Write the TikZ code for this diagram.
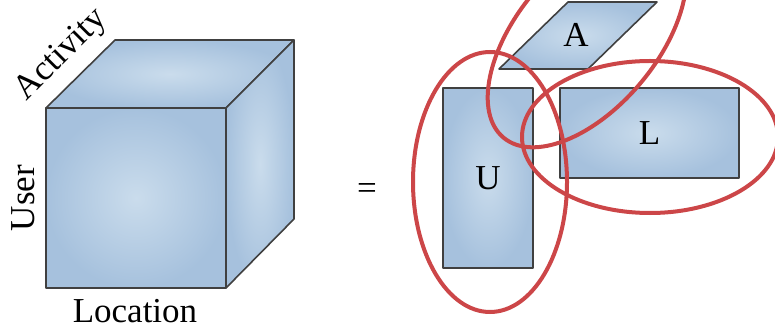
\documentclass[tikz,border=0pt]{standalone}
\usepackage{fontspec}
\setmainfont{Liberation Serif}
\usetikzlibrary{shapes.geometric}

\definecolor{paleblue}{RGB}{202,220,236}
\definecolor{midblue}{RGB}{166,193,221}
\definecolor{edgegray}{RGB}{64,64,64}
\definecolor{ringred}{RGB}{204,70,72}

\begin{document}
\begin{tikzpicture}[x=0.5pt, y=-0.5pt]
        \tikzset{face/.style={draw=edgegray, line width=0.8pt, line join=round, inner color=paleblue, outer color=midblue},
                 block/.style={face, rectangle, inner sep=0pt},
                 lbl/.style={font=\fontsize{17.5}{20}\selectfont, inner sep=1pt},
                 ring/.style={draw=ringred, line width=2pt, ellipse, inner sep=0pt}}
        \useasboundingbox (0,0) rectangle (775,331);

        % tensor cube
        \shade[face] (46,108) -- (115,40) -- (294,40) -- (226,108) -- cycle;
        \shade[face] (226,108) -- (294,40) -- (294,219) -- (226,288) -- cycle;
        \shade[face] (46,108) rectangle (226,288);

        \node[lbl, rotate=45] (act) at (62,55) {Activity};
        \node[lbl, rotate=90] (usr) at (23,198) {User};
        \node[lbl] (loc) at (135,311) {Location};
        \node[lbl] (eq) at (367,192) {=};

        % factor matrices
        \shade[face] (499,69) -- (568,2) -- (657,2) -- (588,69) -- cycle;
        \node[lbl] (A) at (576,35) {A};
        \node[block, lbl, minimum width=45pt, minimum height=90pt] (U) at (488,178) {U};
        \node[block, lbl, minimum width=89.5pt, minimum height=45pt] (L) at (649.5,133) {L};

        % red rings
        \node[ring, minimum width=77pt, minimum height=130pt] (uring) at (490,182) {};
        \node[ring, minimum width=128pt, minimum height=76pt] (lring) at (650,137) {};
        \node[ring, rotate=50, minimum width=130pt, minimum height=70pt] (aring) at (587,38) {};
    \end{tikzpicture}
\end{document}
